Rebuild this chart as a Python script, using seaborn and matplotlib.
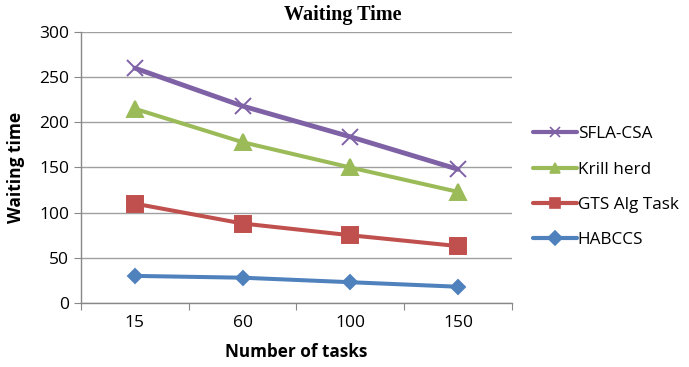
import matplotlib
matplotlib.use("Agg")
import matplotlib.pyplot as plt
import pandas as pd
import seaborn as sns

tasks = ["15", "60", "100", "150"]
series = ["SFLA-CSA", "Krill herd", "GTS Alg Task", "HABCCS"]
sfla_csa = [260, 218, 184, 148]
krill_herd = [215, 178, 150, 123]
gts_alg = [110, 88, 75, 63]
habccs = [30, 28, 23, 18]

colors = {"SFLA-CSA": "#7F62A6", "Krill herd": "#9BBB59",
          "GTS Alg Task": "#C0504D", "HABCCS": "#4F81BD"}
markers = {"SFLA-CSA": "x", "Krill herd": "^", "GTS Alg Task": "s", "HABCCS": "D"}
msizes = {"SFLA-CSA": 12, "Krill herd": 11.5, "GTS Alg Task": 12, "HABCCS": 7.5}
widths = {"SFLA-CSA": 3.5, "Krill herd": 2.9, "GTS Alg Task": 2.9, "HABCCS": 2.9}

df = pd.concat([
    pd.DataFrame({"tasks": tasks, "value": vals, "series": name})
    for name, vals in zip(series, [sfla_csa, krill_herd, gts_alg, habccs])
])

sns.set_style("white")
plt.rcParams["font.family"] = ["Open Sans", "DejaVu Sans"]
plt.rcParams["text.color"] = "black"
plt.rcParams["axes.labelcolor"] = "black"
plt.rcParams["xtick.color"] = "black"
plt.rcParams["ytick.color"] = "black"

fig = plt.figure(figsize=(6.89, 3.67), dpi=100)
ax = fig.add_axes([0.1176, 0.1744, 0.6254, 0.7384])

for name in series:
    sns.lineplot(data=df[df["series"] == name], x="tasks", y="value",
                 color=colors[name], marker=markers[name], markersize=msizes[name],
                 markeredgewidth=1.4, markeredgecolor=colors[name],
                 linewidth=widths[name], sort=False, ax=ax, zorder=3)

ax.set_ylim(0, 300)
ax.set_xlim(-0.5, 3.5)
ax.set_yticks(range(0, 301, 50))
ax.yaxis.grid(True, color="#A0A0A0", linewidth=1)
ax.xaxis.grid(False)
ax.set_axisbelow(True)

ax.set_xticks([-0.5, 0.5, 1.5, 2.5, 3.5])
ax.set_xticklabels([])
ax.set_xticks(range(len(tasks)), minor=True)
ax.set_xticklabels(tasks, minor=True)
ax.tick_params(axis="x", which="major", length=5, color="#888888", direction="out")
ax.tick_params(axis="x", which="minor", length=0, labelsize=12.5, pad=9)
ax.tick_params(axis="y", length=5, color="#888888", direction="out", labelsize=12.5,
               labelcolor="black")
ax.tick_params(axis="both", bottom=True, left=True)

for side in ["top", "right"]:
    ax.spines[side].set_visible(False)
for side in ["left", "bottom"]:
    ax.spines[side].set_color("#888888")
    ax.spines[side].set_linewidth(1)

ax.set_xlabel("Number of tasks", fontsize=12.3, fontweight="bold", labelpad=8)
ax.set_ylabel("Waiting time", fontsize=12.5, fontweight="bold", labelpad=5)
ax.yaxis.set_label_coords(-0.13, 0.5)
fig.text(0.497, 0.958, "Waiting Time", ha="center", va="center",
         fontsize=14.5, fontweight="bold", family="Liberation Serif")

handles = [plt.Line2D([], [], color=colors[s], marker=markers[s], lw=3,
                      markersize=7, markeredgewidth=1.2) for s in series]
fig.legend(handles, series, loc="upper left", bbox_to_anchor=(0.763, 0.674),
           frameon=False, fontsize=12.3, handlelength=2.6, handletextpad=0.05,
           labelspacing=1.12, borderaxespad=0)

fig.savefig("out.png", dpi=100)
